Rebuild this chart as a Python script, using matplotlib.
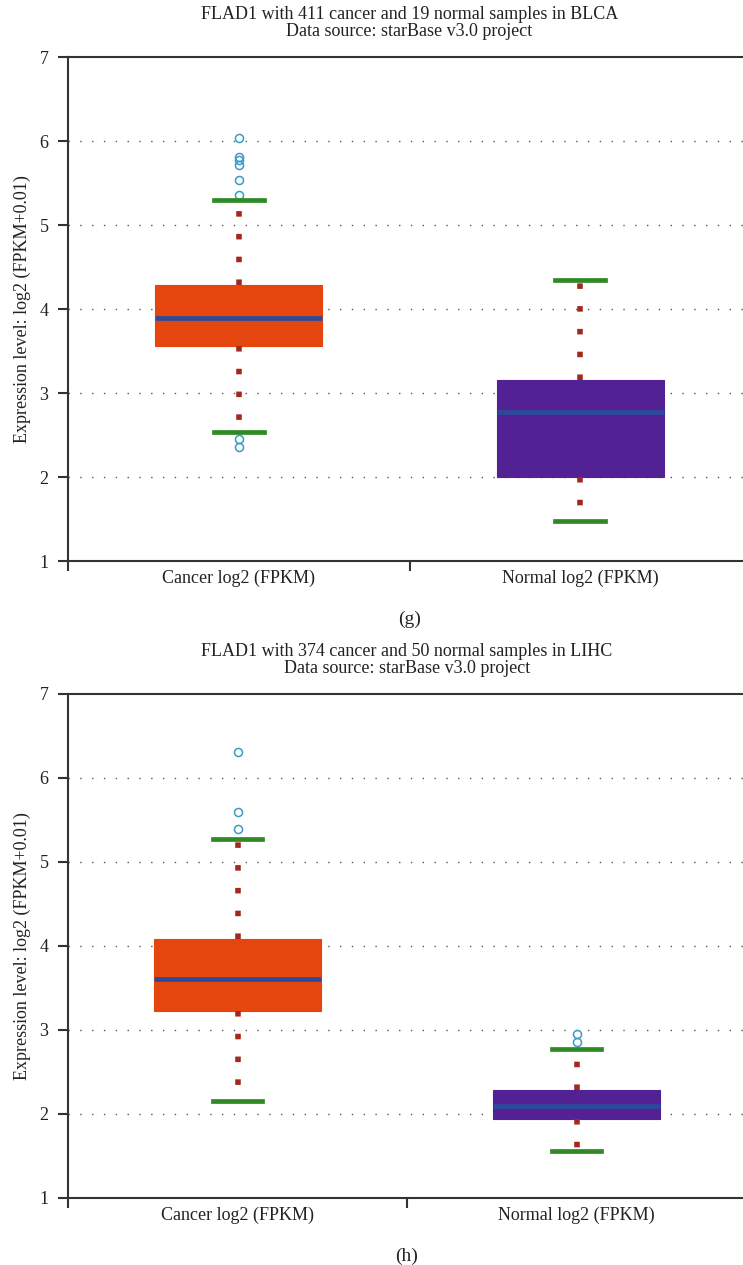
import matplotlib
matplotlib.use("Agg")
import matplotlib.pyplot as plt

plt.rcParams['font.family'] = ['Liberation Serif', 'DejaVu Serif']

# box statistics read per panel: q1, median, q3, whisker ends, outliers
categories = ["Cancer log2 (FPKM)", "Normal log2 (FPKM)"]

blca_q1 = [3.56, 2.00]
blca_med = [3.89, 2.77]
blca_q3 = [4.28, 3.15]
blca_lo = [2.53, 1.48]
blca_hi = [5.30, 4.35]
blca_fliers = [[6.03, 5.81, 5.77, 5.71, 5.53, 5.36, 2.45, 2.36], []]

lihc_q1 = [3.23, 1.94]
lihc_med = [3.61, 2.09]
lihc_q3 = [4.08, 2.29]
lihc_lo = [2.16, 1.56]
lihc_hi = [5.27, 2.77]
lihc_fliers = [[6.31, 5.59, 5.39], [2.95, 2.86]]

titles = ["FLAD1 with 411 cancer and 19 normal samples in BLCA\nData source: starBase v3.0 project",
          "FLAD1 with 374 cancer and 50 normal samples in LIHC\nData source: starBase v3.0 project"]
panel_tags = ["(g)", "(h)"]

box_colors = ["#e5460e", "#522295"]
median_color = "#2c4a9a"
cap_color = "#2f8a25"
whisker_color = "#a3271c"
flier_color = "#3b9ac8"
spine_color = "#333333"

fig = plt.figure(figsize=(7.43, 12.65), dpi=100)


def draw_panel(ax, q1, med, q3, lo, hi, fliers, title, tag):
    stats = []
    for i in range(len(categories)):
        stats.append(dict(q1=q1[i], med=med[i], q3=q3[i],
                          whislo=lo[i], whishi=hi[i], fliers=fliers[i]))
    bp = ax.bxp(stats, positions=[0, 1], widths=0.49, capwidths=0.145,
                patch_artist=True, showfliers=True,
                medianprops=dict(color=median_color, linewidth=3.4),
                whiskerprops=dict(color=whisker_color, linewidth=4.0,
                                  linestyle=(0, (1, 3.1))),
                capprops=dict(color=cap_color, linewidth=3.4),
                flierprops=dict(marker='o', markersize=5.8, markerfacecolor='none',
                                markeredgecolor=flier_color, markeredgewidth=1.1))
    for patch, c in zip(bp['boxes'], box_colors):
        patch.set_facecolor(c)
        patch.set_edgecolor(c)
        patch.set_linewidth(0.8)
    for cap in bp['caps']:
        cap.set_zorder(4)

    ax.set_xlim(-0.5, 1.5)
    ax.set_ylim(1, 7)
    ax.set_yticks([1, 2, 3, 4, 5, 6, 7])
    ax.set_xticks([-0.5, 0.5, 1.5])
    ax.set_xticklabels(["", "", ""])
    ax.set_xticks([0, 1], minor=True)
    ax.set_xticklabels(categories, minor=True)
    ax.tick_params(axis='x', which='minor', length=0, labelsize=13, pad=6,
                   colors='#222222')
    ax.tick_params(axis='x', which='major', length=7, width=1.5, direction='out',
                   color=spine_color)
    ax.tick_params(axis='y', length=7, width=1.5, direction='out', pad=7,
                   labelsize=13, color=spine_color, labelcolor='#222222')

    for y in [2, 3, 4, 5, 6]:
        ax.axhline(y, color='#555555', linewidth=1.0, linestyle=(0, (1, 7.5)), zorder=0)

    for side in ['left', 'bottom', 'top']:
        ax.spines[side].set_color(spine_color)
        ax.spines[side].set_linewidth(1.5)
    ax.spines['right'].set_visible(False)

    ax.set_ylabel("Expression level: log2 (FPKM+0.01)", fontsize=13, labelpad=6,
                  color='#222222')
    ax.set_title(title, fontsize=13, linespacing=1.05, pad=15, color='#222222')
    ax.text(0.5, -0.115, tag, transform=ax.transAxes, ha='center', va='center',
            fontsize=14, color='#222222')


ax1 = fig.add_axes([68 / 743, 1 - 561 / 1265, 683 / 743, 504 / 1265])
draw_panel(ax1, blca_q1, blca_med, blca_q3, blca_lo, blca_hi, blca_fliers,
           titles[0], panel_tags[0])

ax2 = fig.add_axes([68 / 743, 1 - 1198 / 1265, 678 / 743, 504 / 1265])
draw_panel(ax2, lihc_q1, lihc_med, lihc_q3, lihc_lo, lihc_hi, lihc_fliers,
           titles[1], panel_tags[1])

fig.savefig("out.png", dpi=100)
